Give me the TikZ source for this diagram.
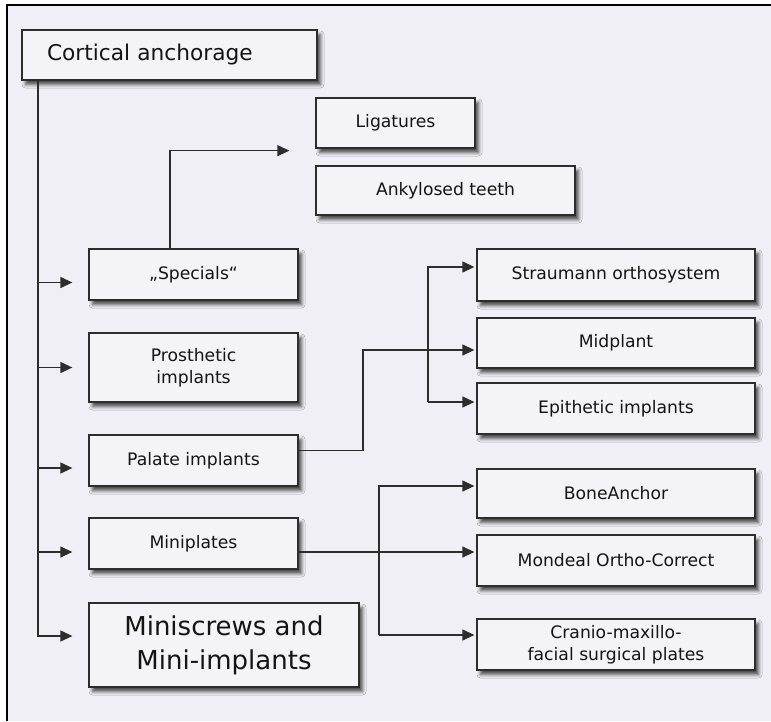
\documentclass[tikz,border=0pt]{standalone}
\usepackage{fontspec}
\setmainfont{DejaVu Sans}
\usetikzlibrary{arrows.meta,shadows.blur,calc}
\definecolor{bgc}{RGB}{239,239,245}
\definecolor{boxc}{RGB}{243,243,248}
\definecolor{linec}{RGB}{45,45,45}
\definecolor{txtc}{RGB}{20,20,20}
\begin{document}
\begin{tikzpicture}[x=1pt,y=-1pt,
  box/.style={draw=linec, line width=1.3pt, fill=boxc, inner sep=0pt, align=center, text=txtc,
    font=\fontsize{17.2}{22}\selectfont,
    blur shadow={shadow xshift=3.5pt, shadow yshift=-4.5pt, shadow blur radius=3.5pt, shadow opacity=70}},
  conn/.style={draw=linec, line width=1.3pt},
  arr/.style={conn, -{Triangle[length=12pt,width=11pt]}}]
\useasboundingbox (0,0) rectangle (771,721);
\fill[white] (0,0) rectangle (771,721);
\fill[bgc] (7,5) rectangle (771,721);
\draw[black, line width=1.5pt] (7,721) -- (7,5) -- (771,5);

% left column
\node[box, minimum width=295pt, minimum height=50pt, text width=245pt, align=left,
      font=\fontsize{21.7}{24}\selectfont] (ca) at (169.5,55) {Cortical anchorage};
\node[box, minimum width=159pt, minimum height=50pt] (lig) at (395.5,123) {Ligatures};
\node[box, minimum width=259pt, minimum height=49pt] (ank) at (445.5,190.5) {Ankylosed teeth};
\node[box, minimum width=209pt, minimum height=51pt] (sp) at (193.5,274.5) {„Specials“};
\node[box, minimum width=209pt, minimum height=69pt] (pr) at (193.5,367.5) {Prosthetic\\implants};
\node[box, minimum width=209pt, minimum height=51pt] (pa) at (193.5,460.5) {Palate implants};
\node[box, minimum width=209pt, minimum height=51pt] (mp) at (193.5,543.5) {Miniplates};
\node[box, minimum width=270pt, minimum height=84pt, font=\fontsize{26}{34}\selectfont] (ms) at (224,645) {Miniscrews and\\Mini-implants};

% right column
\node[box, minimum width=278pt, minimum height=52pt] (st) at (616,275) {Straumann orthosystem};
\node[box, minimum width=278pt, minimum height=50pt] (mid) at (616,343) {Midplant};
\node[box, minimum width=278pt, minimum height=51pt] (epi) at (616,408.5) {Epithetic implants};
\node[box, minimum width=278pt, minimum height=49pt] (bone) at (616,493.5) {BoneAnchor};
\node[box, minimum width=278pt, minimum height=51pt] (mon) at (616,560.5) {Mondeal Ortho-Correct};
\node[box, minimum width=278pt, minimum height=51pt] (cmf) at (616,644.5) {Cranio-maxillo-\\facial surgical plates};

% trunk and left arrows
\coordinate (trunk) at (38,0);
\coordinate (a1) at ($(sp.west)+(-16,8)$);
\coordinate (a2) at ($(pr.west)+(-16,0)$);
\coordinate (a3) at ($(pa.west)+(-16,7.5)$);
\coordinate (a4) at ($(mp.west)+(-16,8.5)$);
\coordinate (a5) at ($(ms.west)+(-16,-9)$);
\draw[arr] (ca.south -| trunk) |- (a5);
\draw[arr] (trunk |- a1) -- (a1);
\draw[arr] (trunk |- a2) -- (a2);
\draw[arr] (trunk |- a3) -- (a3);
\draw[arr] (trunk |- a4) -- (a4);

% specials -> ligatures / ankylosed
\coordinate (spx) at (170,0);
\coordinate (ligin) at ($(lig.south west)+(-26,2)$);
\draw[arr] (sp.north -| spx) |- (ligin);

% palate -> midplant
\coordinate (pj) at (363,0);
\coordinate (pa-out) at ($(pa.east)+(0,-10)$);
\coordinate (mid-in) at ($(mid.west)+(-2,7)$);
\draw[arr] (pa-out) -| (pj |- mid-in) -- (mid-in);

% bracket straumann / epithetic
\coordinate (bx) at (428,0);
\coordinate (st-in) at ($(st.west)+(-2,-8)$);
\coordinate (epi-in) at ($(epi.west)+(-2,-6.5)$);
\draw[arr] (bx |- epi-in) |- (st-in);
\draw[arr] (bx |- epi-in) -- (epi-in);

% miniplates -> mondeal
\coordinate (mon-in) at ($(mon.west)+(-2,-8.5)$);
\draw[arr] (mp.east |- mon-in) -- (mon-in);

% bracket boneanchor / cranio
\coordinate (cx) at (379,0);
\coordinate (bone-in) at ($(bone.west)+(-2,-7.5)$);
\coordinate (cmf-in) at ($(cmf.west)+(-2,-9.5)$);
\draw[arr] (cx |- cmf-in) |- (bone-in);
\draw[arr] (cx |- cmf-in) -- (cmf-in);
\end{tikzpicture}
\end{document}
